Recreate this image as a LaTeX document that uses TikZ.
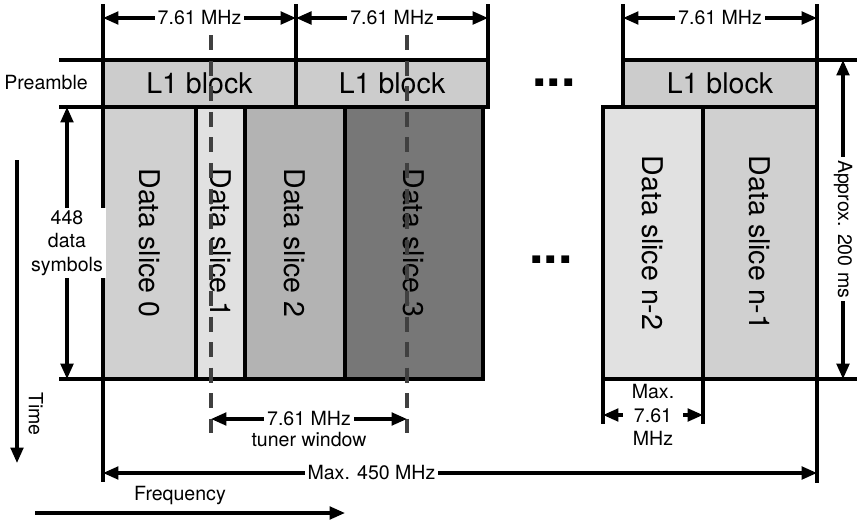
\documentclass[tikz,border=0pt]{standalone}
\usepackage{fontspec}
\setmainfont{TeX Gyre Heros}
\usepackage{graphicx}
\usepackage{xcolor}
\usetikzlibrary{arrows.meta, positioning}

\definecolor{grisbloc}{HTML}{CCCCCC}
\definecolor{grisclair}{HTML}{E1E1E1}
\definecolor{grismoyen}{HTML}{D0D0D0}
\definecolor{grisfonce}{HTML}{B3B3B3}
\definecolor{grisnoir}{HTML}{777777}

\begin{document}
\begin{tikzpicture}[
                    x=0.025cm, y=-0.025cm,
                    bloc/.style={
                        draw,
                        line width=2.3pt,
                        outer sep=0pt,
                        inner sep=0pt,
                        fill=grisbloc,
                        minimum height=1.175cm,
                        font=\fontsize{20.3}{24}\selectfont
                    },
                    slice/.style={
                        draw,
                        line width=2.3pt,
                        outer sep=0pt,
                        inner sep=0pt,
                        minimum height=6.8cm,
                        font=\fontsize{20.3}{24}\selectfont
                    },
                    ext/.style={
                        line width=2.3pt
                    },
                    dim/.style={
                        line width=2.3pt,
                        {Triangle[length=11pt,width=9pt]}-{Triangle[length=11pt,width=9pt]}
                    },
                    fleche/.style={
                        line width=2.3pt,
                        -{Triangle[length=11pt,width=9pt]}
                    },
                    cote/.style={
                        fill=white,
                        inner sep=2pt,
                        align=center,
                        font=\fontsize{13.9}{16.7}\selectfont
                    },
                    texte/.style={
                        align=center,
                        font=\fontsize{13.9}{16.7}\selectfont
                    },
                    points/.style={
                        anchor=base,
                        inner sep=0pt,
                        font=\fontsize{37}{40}\selectfont\bfseries
                    },
                    tuner/.style={
                        draw=black!75,
                        line width=2.8pt,
                        dash pattern=on 10.7pt off 7.5pt
                    }
                ]
                \useasboundingbox (0,0) rectangle (857,520);

                % Blocs L1 du préambule
                \node[bloc, minimum width=4.825cm, anchor=north west] (l1a) at (103,60) {L1 block};
                \node[bloc, minimum width=4.8cm, right=0pt of l1a] (l1b) {L1 block};
                \node[bloc, minimum width=4.85cm, anchor=north west] (l1c) at (623,60) {L1 block};

                % Data slices
                \node[slice, fill=grismoyen, minimum width=2.325cm, anchor=north west] (d0) at (103,107) {\rotatebox{-90}{Data slice 0}};
                \node[slice, fill=grisclair, minimum width=1.225cm, right=0pt of d0] (d1) {\rotatebox{-90}{Data slice 1}};
                \node[slice, fill=grisfonce, minimum width=2.5cm, right=0pt of d1] (d2) {\rotatebox{-90}{Data slice 2}};
                \node[slice, fill=grisnoir, minimum width=3.45cm, right=0pt of d2] (d3) {\rotatebox{-90}{Data slice 3}};
                \node[slice, fill=grisclair, minimum width=2.5cm, anchor=north west] (dn2) at (603,107) {\rotatebox{-90}{Data slice n-2}};
                \node[slice, fill=grismoyen, minimum width=2.85cm, right=0pt of dn2] (dn1) {\rotatebox{-90}{Data slice n-1}};

                % Points de suspension
                \node[points] (pts1) at (554,86) {...};
                \node[points] (pts2) at (551,263) {...};

                % Cotes du haut
                \draw[ext] (l1a.north west) -- (l1a.north west |- 0,4);
                \draw[ext] (l1b.north west) -- (l1b.north west |- 0,4);
                \draw[ext] (l1b.north east) -- (l1b.north east |- 0,4);
                \draw[ext] (l1c.north west) -- (l1c.north west |- 0,4);
                \draw[ext] (l1c.north east) -- (l1c.north east |- 0,4);
                \draw[dim] (l1a.north west |- 0,18) -- node[cote] {7.61 MHz} (l1a.north east |- 0,18);
                \draw[dim] (l1b.north west |- 0,18) -- node[cote] {7.61 MHz} (l1b.north east |- 0,18);
                \draw[dim] (l1c.north west |- 0,18) -- node[cote] {7.61 MHz} (l1c.north east |- 0,18);

                % Cotes de gauche
                \node[texte] (pre) at (46,83) {Preamble};
                \draw[ext] (l1a.north west) -- (l1a.north west -| 59,0);
                \draw[ext] (d0.north west) -- (d0.north west -| 59,0);
                \draw[ext] (d0.south west) -- (d0.south west -| 59,0);
                \draw[dim] (d0.north west -| 67,0) -- node[cote] {448\\data\\symbols} (d0.south west -| 67,0);

                % Cotes de droite
                \draw[ext] (l1c.north east) -- (l1c.north east -| 857,0);
                \draw[ext] (dn1.south east) -- (dn1.south east -| 857,0);
                \draw[dim] (l1c.north east -| 843,0) -- node[cote, rotate=-90, pos=0.53] {Approx. 200 ms} (dn1.south east -| 843,0);

                % Fenêtre du tuner
                \coordinate (t1) at (211,35);
                \coordinate (t1b) at (211,433);
                \coordinate (t2) at (407,35);
                \coordinate (t2b) at (407,433);
                \draw[tuner] (t1) -- (t1b);
                \draw[tuner] (t2) -- (t2b);
                \draw[dim] (t1 |- 0,419) -- node[cote, label={[texte, inner sep=0pt]below:tuner window}] {7.61 MHz} (t2 |- 0,419);

                % Cotes du bas
                \draw[ext] (dn2.south west) -- (dn2.south west |- 0,424);
                \draw[ext] (dn2.south east) -- (dn2.south east |- 0,424);
                \draw[dim] (dn2.south west |- 0,415) -- node[cote, inner xsep=6pt] {Max.\\7.61\\MHz} (dn2.south east |- 0,415);
                \draw[ext] (d0.south west) -- (d0.south west |- 0,482);
                \draw[ext] (dn1.south east) -- (dn1.south east |- 0,483);
                \draw[dim] (d0.south west |- 0,473) -- node[cote, pos=0.376] {Max. 450 MHz} (dn1.south east |- 0,473);

                % Axes temps et fréquence
                \coordinate (time0) at (17,160);
                \coordinate (time1) at (17,463);
                \draw[fleche] (time0) -- (time1);
                \node[texte, rotate=-90, anchor=base, inner sep=0pt] (time) at (29,414) {Time};
                \coordinate (freq0) at (35,513);
                \coordinate (freq1) at (345,513);
                \draw[fleche] (freq0) -- (freq1);
                \node[texte, anchor=base, inner sep=0pt] (freq) at (180,500) {Frequency};

            \end{tikzpicture}
\end{document}
